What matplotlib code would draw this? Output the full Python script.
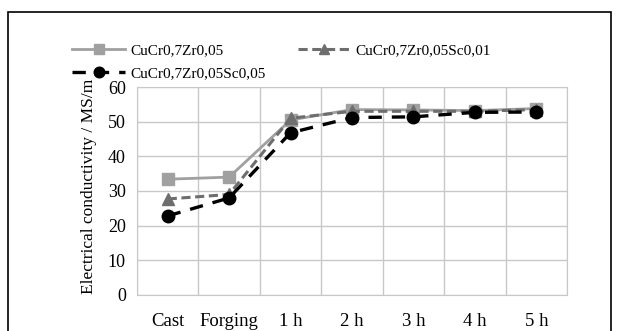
import matplotlib.pyplot as plt
from matplotlib.patches import Rectangle
from matplotlib.ticker import MultipleLocator
import numpy as np

plt.rcParams['font.family'] = ['Liberation Serif', 'DejaVu Serif']

# стадии обработки и значения проводимости
stages = ["Cast", "Forging", "1 h", "2 h", "3 h", "4 h", "5 h"]
cu_zr = [33.4, 34.0, 50.5, 53.5, 53.4, 53.2, 53.8]
cu_zr_sc01 = [27.7, 29.0, 51.0, 53.0, 53.0, 53.0, 53.5]
cu_zr_sc05 = [22.8, 28.0, 46.8, 51.2, 51.4, 52.7, 52.8]

fig = plt.figure(figsize=(6.17, 3.31), dpi=100)
ax = fig.add_axes([0.222, 0.109, 0.697, 0.628])

x = np.arange(len(stages)) + 0.5

l1, = ax.plot(x, cu_zr, color="#a0a0a0", lw=2.0, marker="s", ms=8.5,
              label="CuCr0,7Zr0,05")
l2, = ax.plot(x, cu_zr_sc01, color="#6e6e6e", lw=2.2, ls=(0, (3, 1.5)),
              marker="^", ms=8, label="CuCr0,7Zr0,05Sc0,01")
l3, = ax.plot(x, cu_zr_sc05, color="black", lw=2.4, ls=(0, (4, 3)),
              marker="o", ms=9, label="CuCr0,7Zr0,05Sc0,05")

ax.set_xlim(0, len(stages))
ax.set_ylim(0, 60)
ax.yaxis.set_major_locator(MultipleLocator(10))
ax.set_xticks(np.arange(len(stages) + 1), minor=False)
ax.set_xticklabels([])
ax.set_xticks(x, stages, minor=True)
ax.tick_params(axis="x", which="both", length=0, labelsize=13.5, pad=13)
ax.tick_params(axis="y", length=0, labelsize=13, pad=8)
ax.grid(True, which="major", color="#c8c8c8", lw=1)
ax.set_axisbelow(True)
for s in ax.spines.values():
    s.set_color("#c8c8c8")
ax.set_ylabel("Electrical conductivity / MS/m", fontsize=12.5, labelpad=8, y=0.52)

fig.legend([l1, l3, l2], [l1.get_label(), l3.get_label(), l2.get_label()],
           ncol=2, loc="upper left", bbox_to_anchor=(0.117, 0.868),
           frameon=False, fontsize=11, handlelength=3.45, handletextpad=0.35,
           columnspacing=2.1, labelspacing=0.62, markerscale=0.85,
           borderpad=0, borderaxespad=0)

# рамка вокруг всей картинки
fig.patches.append(Rectangle((0.013, -0.05), 0.978, 1.014, transform=fig.transFigure,
                             fill=False, edgecolor="black", lw=1.2))

fig.savefig("out.png", dpi=100)
